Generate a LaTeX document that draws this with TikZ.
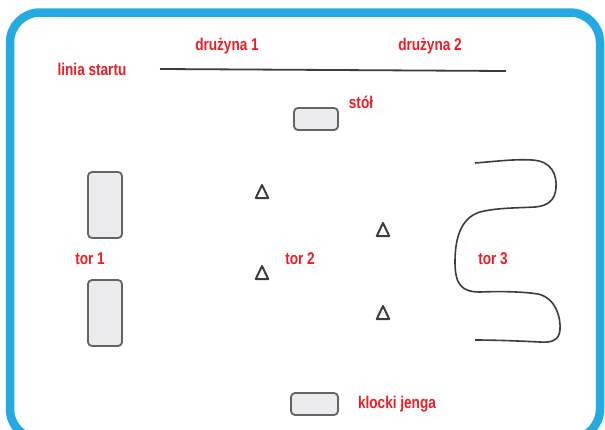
\documentclass[tikz,border=0pt]{standalone}
\usepackage{fontspec}
\usetikzlibrary{calc}
\setmainfont{Liberation Sans}[FakeStretch=0.8]
\definecolor{frameblue}{RGB}{35,170,225}
\definecolor{lbl}{RGB}{240,28,36}
\definecolor{boxfill}{RGB}{235,235,237}
\definecolor{boxline}{RGB}{100,100,100}
\definecolor{ink}{RGB}{60,60,60}
\begin{document}
\begin{tikzpicture}[x=1pt,y=-1pt,
  lab/.style={text=lbl,font=\fontsize{17}{19}\selectfont\bfseries,inner sep=0pt},
  blk/.style={draw=boxline,fill=boxfill,line width=1.8pt,rounded corners=4pt},
  cone/.style={draw=ink,line width=2pt,line join=round}]
\useasboundingbox (0,0) rectangle (605,429);
\fill[white] (0,0) rectangle (605,429);
\begin{scope}
\clip (0,0) rectangle (605,429);
\draw[frameblue,line width=8.5pt,rounded corners=30pt] (10,12.5) rectangle (600,439);
\end{scope}
% labels
\node[lab] (ls) at (92,69) {linia startu};
\node[lab] (d1) at (227,46) {drużyna 1};
\node[lab] (d2) at (430,46) {drużyna 2};
\coordinate (s1) at (160,69);
\coordinate (s2) at (506,71);
\draw[ink,line width=1.8pt] (s1) -- (s2);
% table
\node[blk,minimum width=44pt,minimum height=22pt] (stol) at (316,119) {};
\node[lab] (stoll) at (361,102) {stół};
% tor 1
\node[blk,minimum width=34pt,minimum height=66pt] (b1) at (105,205) {};
\node[blk,minimum width=34pt,minimum height=66pt] (b2) at (105,313) {};
\node[lab] (t1) at (90,259) {tor 1};
% tor 2 cones
\foreach \n/\x/\y in {c1/262/192, c2/262/273, c3/383/230, c4/383/313}{
  \coordinate (\n) at (\x,\y);
  \draw[cone] ($(\n)+(0,-7)$) -- ($(\n)+(6.2,6)$) -- ($(\n)+(-6.2,6)$) -- cycle;
}
\node[lab] (t2) at (300,259) {tor 2};
% tor 3
\draw[ink,line width=1.6pt] (475,163) .. controls (500,161) and (515,159) .. (532,160)
  .. controls (552,161) and (557,175) .. (556,188)
  .. controls (555,200) and (548,206) .. (535,207)
  .. controls (515,208) and (495,208) .. (480,212)
  .. controls (460,218) and (455,240) .. (455,262)
  .. controls (455,285) and (462,292) .. (480,292)
  .. controls (505,291) and (525,292) .. (538,294)
  .. controls (556,298) and (561,318) .. (560,330)
  .. controls (559,340) and (552,343) .. (540,342)
  .. controls (520,341) and (495,340) .. (475,340);
\node[lab] (t3) at (493,259) {tor 3};
% jenga
\node[blk,minimum width=47pt,minimum height=22pt] (jen) at (314.5,404) {};
\node[lab] (jl) at (397,404) {klocki jenga};
\end{tikzpicture}
\end{document}
